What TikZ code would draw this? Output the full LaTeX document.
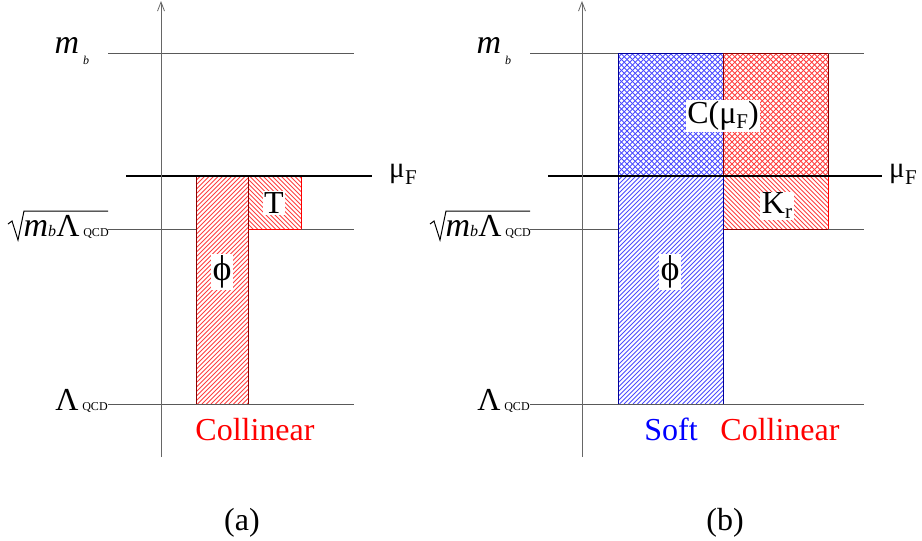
\documentclass[tikz,border=0pt]{standalone}
\usepackage{fontspec}
\setmainfont{Liberation Serif}
\usetikzlibrary{arrows.meta}
\tikzset{
  refline/.style={draw=black!65, line width=1pt},
  muline/.style={draw=black, line width=1.6pt},
  axisline/.style={draw=black!60, line width=1pt, -{Straight Barb[length=9pt,width=7pt,line width=0.8pt]}},
  hatchln/.style={line width=0.75pt},
  big/.style={font=\fontsize{32}{36}\selectfont},
  bigit/.style={font=\fontsize{34}{38}\selectfont\itshape},
  phifont/.style={font=\fontsize{36}{40}\selectfont},
  subsm/.style={font=\fontsize{12}{14}\selectfont},
  subit/.style={font=\fontsize{12}{14}\selectfont\itshape},
  subF/.style={font=\fontsize{21}{23}\selectfont},
  lbl/.style={fill=white, inner sep=1.5pt},
}
% #1 x1, #2 y1 (top), #3 x2, #4 y2 (bottom), #5 colour, #6 spacing
\newcommand\hatchNE[6]{%
  \begin{scope}
    \clip (#1,#2) rectangle (#3,#4);
    \foreach \s in {0,...,130} {\draw[hatchln,#5] ({#1-300+\s*#6},#4) -- ++(320,-320);}
  \end{scope}}
\newcommand\hatchNW[6]{%
  \begin{scope}
    \clip (#1,#2) rectangle (#3,#4);
    \foreach \s in {0,...,130} {\draw[hatchln,#5] ({#1-300+\s*#6},#2) -- ++(320,320);}
  \end{scope}}
\begin{document}
\begin{tikzpicture}[x=1pt,y=-1pt]
\useasboundingbox (0,0) rectangle (922,541);

% ================= panel (a) =================
\hatchNE{196}{176}{248}{404}{red!75}{4.5}
\hatchNW{248}{176}{301}{229}{red!75}{4.5}
\draw[red!55!black, line width=1pt] (196,176) rectangle (248,404);
\draw[red, line width=1pt] (248,176) -- (301,176) -- (301,229) -- (248,229);

\draw[refline] (108,53) -- (354,53);
\draw[refline] (108,229) -- (196,229);
\draw[refline] (301,229) -- (354,229);
\draw[refline] (108,404) -- (354,404);
\draw[muline] (126,176) -- (372,176);
\coordinate (aaxb) at (161,457);
\coordinate (aaxt) at (161,1);
\draw[axisline] (aaxb) -- (aaxt);

\node[bigit, anchor=base, inner sep=0pt] (amb) at (67,53) {m};
\node[subit, anchor=base, inner sep=0pt] (ambs) at (86,64) {b};
\node[font=\fontsize{29}{32}\selectfont, anchor=base, inner sep=0pt] (amu) at (397,177) {μ};
\node[subF, anchor=base, inner sep=0pt] (amuF) at (411,184) {F};
\draw[black, line width=1pt] (8,224) -- (12,221) -- (18,240) -- (24,211) -- (108,211);
\node[bigit, anchor=base, inner sep=0pt] (asm) at (36,236) {m};
\node[font=\fontsize{16}{18}\selectfont\itshape, anchor=base, inner sep=0pt] (asb) at (52,236) {b};
\node[big, anchor=base, inner sep=0pt] (asL) at (68,236) {Λ};
\node[subsm, anchor=base, inner sep=0pt] (asQ) at (96,236) {QCD};
\node[big, anchor=base, inner sep=0pt] (aL) at (67,410) {Λ};
\node[subsm, anchor=base, inner sep=0pt] (aQ) at (95,410) {QCD};
\node[big, lbl] (aT) at (274,203) {T};
\node[phifont, lbl, inner sep=1.5pt] (aphi) at (222,272) {ϕ};
\node[big, red, anchor=base, inner sep=0pt] (acol) at (255,440) {Collinear};
\node[big, anchor=base, inner sep=0pt] (acap) at (242,530) {(a)};

% ================= panel (b) =================
\hatchNE{618}{53}{723}{176}{blue!70}{5.5}
\hatchNW{618}{53}{723}{176}{blue!70}{5.5}
\hatchNE{723}{53}{828}{176}{red!75}{5.5}
\hatchNW{723}{53}{828}{176}{red!75}{5.5}
\hatchNE{618}{176}{723}{404}{blue!70}{4.5}
\hatchNW{723}{176}{828}{229}{red!75}{4.5}
\draw[blue!60!black, line width=1pt] (618,53) rectangle (723,176);
\draw[blue!60!black, line width=1pt] (618,176) rectangle (723,404);
\draw[red!55!black, line width=1pt] (723,53) rectangle (828,176);
\draw[red, line width=1pt] (723,176) -- (828,176) -- (828,229);
\draw[red!55!black, line width=1pt] (723,229) -- (828,229);

\draw[refline] (530,53) -- (618,53);
\draw[refline] (828,53) -- (864,53);
\draw[refline] (530,229) -- (618,229);
\draw[refline] (828,229) -- (864,229);
\draw[refline] (530,404) -- (864,404);
\draw[muline] (548,176) -- (882,176);
\coordinate (baxb) at (582,457);
\coordinate (baxt) at (582,1);
\draw[axisline] (baxb) -- (baxt);

\node[bigit, anchor=base, inner sep=0pt] (bmb) at (489,53) {m};
\node[subit, anchor=base, inner sep=0pt] (bmbs) at (508,64) {b};
\node[font=\fontsize{29}{32}\selectfont, anchor=base, inner sep=0pt] (bmu) at (897,177) {μ};
\node[subF, anchor=base, inner sep=0pt] (bmuF) at (911,184) {F};
\draw[black, line width=1pt] (430,224) -- (434,221) -- (440,240) -- (446,211) -- (530,211);
\node[bigit, anchor=base, inner sep=0pt] (bsm) at (458,236) {m};
\node[font=\fontsize{16}{18}\selectfont\itshape, anchor=base, inner sep=0pt] (bsb) at (474,236) {b};
\node[big, anchor=base, inner sep=0pt] (bsL) at (490,236) {Λ};
\node[subsm, anchor=base, inner sep=0pt] (bsQ) at (518,236) {QCD};
\node[big, anchor=base, inner sep=0pt] (bL) at (489,410) {Λ};
\node[subsm, anchor=base, inner sep=0pt] (bQ) at (517,410) {QCD};
\node[big, lbl, inner sep=1pt] (bC) at (723,116) {C(μ\raisebox{-5pt}{\fontsize{21}{23}\selectfont F})};
\node[big, lbl] (bK) at (777,206) {K\raisebox{-5pt}{\fontsize{21}{23}\selectfont r}};
\node[phifont, lbl, inner sep=1.5pt] (bphi) at (670,272) {ϕ};
\node[big, blue, anchor=base, inner sep=0pt] (bsoft) at (671,440) {Soft};
\node[big, red, anchor=base, inner sep=0pt] (bcol) at (780,440) {Collinear};
\node[big, anchor=base, inner sep=0pt] (bcap) at (725,530) {(b)};
\end{tikzpicture}
\end{document}
